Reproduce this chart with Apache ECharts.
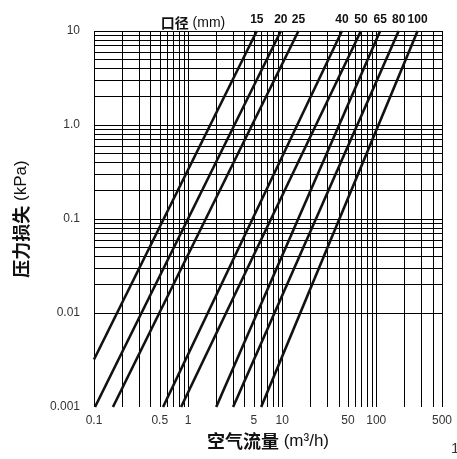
<!DOCTYPE html>
<html><head><meta charset="utf-8">
<script src="https://cdn.jsdelivr.net/npm/echarts@6/dist/echarts.min.js"></script>
<style>html,body{margin:0;padding:0;background:#fff}#c{width:457px;height:459px}</style>
</head><body><div id="c"></div>
<script>
// Pipe diameters (mm)
const diameters = ['15', '20', '25', '40', '50', '65', '80', '100'];
// Lower end point of each line (air flow m3/h, pressure loss kPa)
const lowFlow = [0.1, 0.1025, 0.159, 0.542, 0.843, 1.99, 3.01, 5.98];
const lowLoss = [0.0032, 0.001, 0.001, 0.001, 0.001, 0.001, 0.001, 0.001];
// Upper end point of each line
const highFlow = [5.38, 9.69, 14.9, 43.2, 68.7, 110, 173, 275];
const highLoss = [10, 10, 10, 10, 10, 10, 10, 10];
// Tick labels
const xTickLabels = [0.1, 0.5, 1, 5, 10, 50, 100, 500];
const yTickLabels = [0.001, 0.01, 0.1, 1, 10];
const xMin = 0.1, xMax = 500, yMin = 0.001, yMax = 10;

function logGrid(min, max) {
  const out = [];
  for (let e = Math.floor(Math.log10(min)); e <= Math.ceil(Math.log10(max)); e++) {
    for (let m = 1; m < 10; m++) {
      const v = Number((m * Math.pow(10, e)).toPrecision(6));
      if (v >= min * 0.9999 && v <= max * 1.0001) out.push(v);
    }
  }
  return out;
}

const LATIN = '"Liberation Sans", Arial, sans-serif';
const CJK = '"Noto Sans CJK SC", "Liberation Sans", sans-serif';
const gridColor = '#000';

const gridSeries = {
  type: 'line', data: [], silent: true, z: 1, clip: false,
  markLine: {
    silent: true, animation: false, symbol: ['none', 'none'],
    label: { show: false },
    lineStyle: { color: gridColor, width: 1, type: 'solid', opacity: 1 },
    emphasis: { disabled: true },
    data: logGrid(xMin, xMax).map(v => ({ xAxis: v }))
      .concat(logGrid(yMin, yMax).map(v => ({ yAxis: v })))
  }
};

const curveSeries = diameters.map((d, i) => ({
  type: 'line', name: d, z: 5,
  symbol: 'circle', symbolSize: 0, showSymbol: true,
  lineStyle: { color: '#111', width: 2.6 },
  itemStyle: { color: '#111' },
  emphasis: { disabled: true },
  data: [
    { value: [lowFlow[i], lowLoss[i]], label: { show: false } },
    { value: [highFlow[i], highLoss[i]], label: {
        show: true, position: 'top', distance: 5, formatter: d,
        fontFamily: LATIN, fontWeight: 'bold', fontSize: 12, color: '#111' } }
  ]
}));

const chart = echarts.init(document.getElementById('c'), null, { renderer: 'canvas' });
chart.setOption({
  animation: false,
  backgroundColor: '#fff',
  title: [
    { text: '{b|口径} {n|(mm)}', left: 188, top: 11, textAlign: 'center',
      textStyle: { fontSize: 14, fontFamily: LATIN, fontWeight: 'normal', color: '#111', rich: {
        b: { fontFamily: CJK, fontWeight: 'bold', fontSize: 14, color: '#111' },
        n: { fontFamily: LATIN, fontWeight: 'normal', fontSize: 14, color: '#111' } } } },
    { text: '1', left: 446, top: 436,
      textStyle: { fontFamily: LATIN, fontWeight: 'normal', fontSize: 15, color: '#333' } }
  ],
  grid: { left: 94, right: 15, top: 31, bottom: 52, containLabel: false },
  xAxis: {
    type: 'log', logBase: 10, min: xMin, max: xMax,
    axisLine: { show: false }, axisTick: { show: false }, splitLine: { show: false },
    axisLabel: { show: true, customValues: xTickLabels, margin: 8,
      fontFamily: LATIN, fontSize: 12, color: '#333',
      formatter: v => String(Number(v.toPrecision(6))) },
    name: '{b|空气流量} {n|(m³/h)}', nameLocation: 'middle', nameGap: 25,
    nameTextStyle: { fontSize: 17, rich: {
      b: { fontFamily: CJK, fontWeight: 'bold', fontSize: 18, color: '#111' },
      n: { fontFamily: LATIN, fontWeight: 'normal', fontSize: 17, color: '#111' } } }
  },
  yAxis: {
    type: 'log', logBase: 10, min: yMin, max: yMax,
    axisLine: { show: false }, axisTick: { show: false }, splitLine: { show: false },
    axisLabel: { show: true, customValues: yTickLabels, margin: 14,
      fontFamily: LATIN, fontSize: 12, color: '#333',
      formatter: v => Math.abs(v - 1) < 1e-9 ? '1.0' : String(Number(v.toPrecision(6))) },
    name: '{b|压力损失} {n|(kPa)}', nameLocation: 'middle', nameGap: 64, nameRotate: 90,
    nameTextStyle: { fontSize: 17, rich: {
      b: { fontFamily: CJK, fontWeight: 'bold', fontSize: 18, color: '#111' },
      n: { fontFamily: LATIN, fontWeight: 'normal', fontSize: 17, color: '#111' } } }
  },
  series: [gridSeries].concat(curveSeries)
});
</script>
</body></html>
